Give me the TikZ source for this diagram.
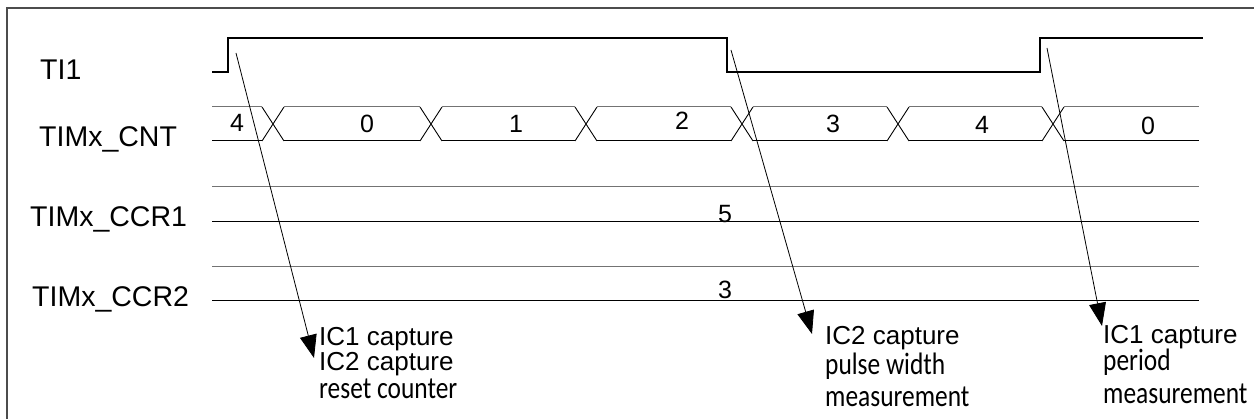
\documentclass[tikz,border=0pt]{standalone}
\usepackage{fontspec}
\setmainfont{Liberation Sans}
\newfontfamily\calfont[FakeStretch=0.82]{Carlito}
\usetikzlibrary{arrows.meta}
\begin{document}
\begin{tikzpicture}[x=1pt,y=-1pt,
  sig/.style={line width=1.1pt,black},
  grid/.style={line width=1pt,black!55},
  lbl/.style={inner sep=0pt,anchor=base west,font=\fontsize{28.5}{33}\selectfont},
  num/.style={inner sep=0pt,anchor=base,font=\fontsize{25}{30}\selectfont},
  note/.style={inner sep=0pt,anchor=base west,font=\fontsize{26}{30}\selectfont},
  cnote/.style={inner sep=0pt,anchor=base west,font=\calfont\fontsize{31}{36}\selectfont},
  evt/.style={line width=0.8pt,-{Triangle[length=23pt,width=17pt]}}]
\useasboundingbox (0,0) rectangle (1254,419);
\begin{scope}
\clip (0,0) rectangle (1254,419);
\draw[line width=1.6pt,black!70] (7,8) rectangle (1262,428);
\end{scope}
% signal names
\node[lbl] (ti1) at (40,80) {TI1};
\node[lbl] (cnt) at (39,147) {TIMx\_CNT};
\node[lbl] (ccr1) at (30,227) {TIMx\_CCR1};
\node[lbl] (ccr2) at (32,307) {TIMx\_CCR2};
% TI1 waveform
\draw[sig] (212,72) -- (228,72) -- (228,38) -- (727,38) -- (727,72) -- (1040,72) -- (1040,38) -- (1203,38);
% counter bus
\foreach \c in {273,431,586,742,898,1053}{
  \draw[sig,line width=0.9pt] (\c-11,107) -- (\c+11,141);
  \draw[sig,line width=0.9pt] (\c-11,141) -- (\c+11,107);
}
\foreach \a/\b in {212/262,284/420,442/575,597/731,753/887,909/1042,1064/1199}{
  \draw[grid] (\a,107) -- (\b,107);
  \draw[sig,line width=1pt] (\a,141) -- (\b,141);
}
\node[num] (v4a) at (237,132) {4};
\node[num] (v0a) at (367,133) {0};
\node[num] (v1) at (516,133) {1};
\node[num] (v2) at (682,130) {2};
\node[num] (v3) at (833,133) {3};
\node[num] (v4b) at (982,134) {4};
\node[num] (v0b) at (1148,135) {0};
% capture registers
\draw[grid] (212,187) -- (1199,187);
\draw[sig,line width=1pt] (212,222) -- (1199,222);
\draw[grid] (212,267) -- (1199,267);
\draw[sig,line width=1pt] (212,301) -- (1199,301);
\node[num] (c1) at (725,223) {5};
\node[num] (c2) at (725,299) {3};
% event arrows
\coordinate (s1) at (236,53);
\coordinate (e1) at (314,358);
\coordinate (s2) at (731,50);
\coordinate (e2) at (812,334);
\coordinate (s3) at (1047,48);
\coordinate (e3) at (1102,326);
\draw[evt] (s1) -- (e1);
\draw[evt] (s2) -- (e2);
\draw[evt] (s3) -- (e3);
% notes
\node[note] (n1a) at (319,346) {IC1 capture};
\node[note] (n1b) at (319,371) {IC2 capture};
\node[cnote] (n1c) at (319,399) {reset counter};
\node[note] (n2a) at (825,345) {IC2 capture};
\node[cnote] (n2b) at (825,375) {pulse width};
\node[cnote] (n2c) at (825,407) {measurement};
\node[note] (n3a) at (1103,344) {IC1 capture};
\node[cnote] (n3b) at (1103,371) {period};
\node[cnote] (n3c) at (1103,404) {measurement};
\end{tikzpicture}
\end{document}
